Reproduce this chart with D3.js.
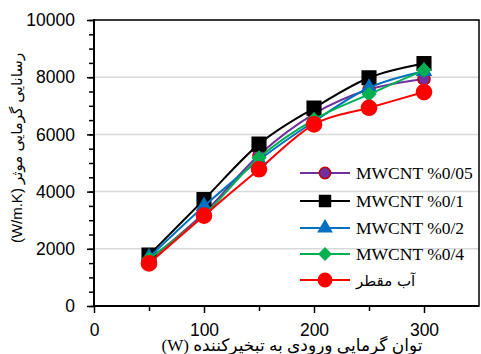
<!DOCTYPE html>
<html><head><meta charset="utf-8">
<script src="https://cdn.jsdelivr.net/npm/d3@7"></script>
<style>body{margin:0;background:#fff}</style>
</head><body><svg id="chart" width="481" height="354"></svg>
<script>
// Heat input to the evaporator (W)
const powerW = [50, 100, 150, 200, 250, 300];
// Effective thermal conductivity (W/m.K) for each working fluid
const mwcnt005 = [1600, 3250, 5280, 6720, 7570, 7940];
const mwcnt01  = [1780, 3720, 5660, 6920, 7980, 8480];
const mwcnt02  = [1700, 3490, 5100, 6450, 7630, 8210];
const mwcnt04  = [1650, 3180, 5180, 6520, 7400, 8250];
const water    = [1490, 3160, 4780, 6350, 6930, 7480];
const seriesNames = ["MWCNT %0/05", "MWCNT %0/1", "MWCNT %0/2", "MWCNT %0/4", "آب مقطر"];
const xTicks = [0, 100, 200, 300];
const yTicks = [0, 2000, 4000, 6000, 8000, 10000];

// diamond marker: a square turned by 45 degrees
const series = [
  {name: seriesNames[0], values: mwcnt005, line: "#7030A0", fill: "#7030A0", stroke: "#C00000", sym: d3.symbolCircle, size: 115, legendSize: 100, rot: 0},
  {name: seriesNames[1], values: mwcnt01,  line: "#000000", fill: "#000000", stroke: "#000000", sym: d3.symbolSquare, size: 185, legendSize: 120, rot: 0},
  {name: seriesNames[2], values: mwcnt02,  line: "#0070C0", fill: "#0070C0", stroke: "#0070C0", sym: d3.symbolTriangle, size: 85, legendSize: 75, rot: 0},
  {name: seriesNames[3], values: mwcnt04,  line: "#00B050", fill: "#00B050", stroke: "#00B050", sym: d3.symbolSquare, size: 85, legendSize: 70, rot: 45},
  {name: seriesNames[4], values: water,    line: "#FF0000", fill: "#FF0000", stroke: "#FF0000", sym: d3.symbolCircle, size: 180, legendSize: 140, rot: 0}
];

const svg = d3.select("#chart");
const L = 94, R = 479, T = 20, B = 306;
const x = d3.scaleLinear().domain([0, 350]).range([L, R]);
const y = d3.scaleLinear().domain([0, 10000]).range([B, T]);

// horizontal gridlines
svg.append("g").selectAll("line").data(yTicks.filter(v => v > 0)).join("line")
  .attr("x1", L).attr("x2", R).attr("y1", d => y(d)).attr("y2", d => y(d))
  .attr("stroke", "#D9D9D9").attr("stroke-width", 1.5);

// frame
svg.append("rect").attr("x", L).attr("y", T).attr("width", R - L).attr("height", B - T)
  .attr("fill", "none").attr("stroke", "#000").attr("stroke-width", 1.5);

const tickFont = "'Liberation Sans', Arial, sans-serif";

// y axis: major + minor ticks
const yMinor = d3.range(0, 10001, 500);
svg.append("g").attr("transform", `translate(${L},0)`)
  .call(d3.axisLeft(y).tickValues(yMinor).tickSize(5).tickFormat(""))
  .call(g => g.select(".domain").remove())
  .selectAll("line").attr("stroke-width", 1.5);
svg.append("g").attr("transform", `translate(${L},0)`)
  .call(d3.axisLeft(y).tickValues(yTicks).tickSize(7).tickPadding(12).tickFormat(d3.format("d")))
  .call(g => g.select(".domain").remove())
  .call(g => g.selectAll("line").attr("stroke-width", 1.5))
  .call(g => g.selectAll("text").attr("font-family", tickFont).attr("font-size", 17.5).attr("fill", "#000"));

// x axis: major + minor ticks
svg.append("g").attr("transform", `translate(0,${B})`)
  .call(d3.axisBottom(x).tickValues([50, 150, 250]).tickSize(5).tickFormat(""))
  .call(g => g.select(".domain").remove())
  .selectAll("line").attr("stroke-width", 1.5);
svg.append("g").attr("transform", `translate(0,${B})`)
  .call(d3.axisBottom(x).tickValues(xTicks).tickSize(7).tickPadding(11).tickFormat(d3.format("d")))
  .call(g => g.select(".domain").remove())
  .call(g => g.selectAll("line").attr("stroke-width", 1.5))
  .call(g => g.selectAll("text").attr("font-family", tickFont).attr("font-size", 17.5).attr("fill", "#000"));

// axis lines
svg.append("line").attr("x1", L).attr("x2", L).attr("y1", T - 1).attr("y2", B + 1).attr("stroke", "#000").attr("stroke-width", 2);
svg.append("line").attr("x1", L - 1).attr("x2", R).attr("y1", B).attr("y2", B).attr("stroke", "#000").attr("stroke-width", 2);

// series lines (smoothed) and markers
const lineGen = d3.line().x((d, i) => x(powerW[i])).y(d => y(d)).curve(d3.curveCardinal.tension(0));
series.forEach(s => {
  svg.append("path").attr("d", lineGen(s.values)).attr("fill", "none")
    .attr("stroke", s.line).attr("stroke-width", 2);
  svg.append("g").selectAll("path").data(s.values).join("path")
    .attr("transform", (d, i) => `translate(${x(powerW[i])},${y(d)}) rotate(${s.rot})`)
    .attr("d", d3.symbol().type(s.sym).size(s.size)())
    .attr("fill", s.fill).attr("stroke", s.stroke).attr("stroke-width", 1.5);
});

// legend
const lg = svg.append("g");
const rowY = [173, 201, 228, 254, 280];
series.forEach((s, i) => {
  const g = lg.append("g").attr("transform", `translate(0,${rowY[i]})`);
  g.append("line").attr("x1", 300).attr("x2", 350).attr("stroke", s.line).attr("stroke-width", 2);
  g.append("path").attr("transform", `translate(325,0) rotate(${s.rot})`)
    .attr("d", d3.symbol().type(s.sym).size(s.legendSize)())
    .attr("fill", s.fill).attr("stroke", s.stroke).attr("stroke-width", 1.5);
  g.append("text").attr("x", 356).attr("y", 6)
    .attr("font-family", i < 4 ? "'Liberation Serif', 'Times New Roman', serif" : "'DejaVu Sans', sans-serif")
    .attr("font-size", i < 4 ? 17.5 : 15)
    .attr("fill", "#000").text(s.name);
});

// axis titles
svg.append("text").attr("x", 292).attr("y", 351).attr("text-anchor", "middle")
  .attr("font-family", "'Liberation Serif', 'DejaVu Sans', serif").attr("font-size", 17).attr("fill", "#000")
  .text("(W) توان گرمایی ورودی به تبخیرکننده");

svg.append("text").attr("transform", "translate(22,148) rotate(-90)").attr("text-anchor", "middle")
  .attr("font-family", "'Liberation Sans', 'DejaVu Sans', sans-serif").attr("font-size", 15).attr("fill", "#000")
  .text("(W/m.K) رسانایی گرمایی موثر");
</script></body></html>
